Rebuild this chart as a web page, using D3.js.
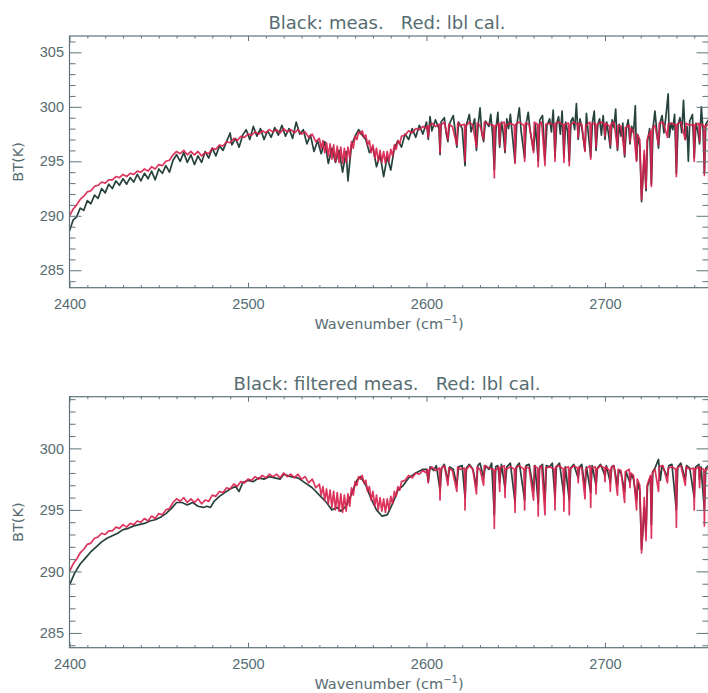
<!DOCTYPE html>
<html>
<head>
<meta charset="utf-8">
<script src="https://cdn.jsdelivr.net/npm/d3@7"></script>
<style>
  body { margin: 0; background: #fff; }
  svg { display: block; font-family: "DejaVu Sans", sans-serif; }
</style>
</head>
<body>
<div id="chart"></div>
<script>
// wavenumber ticks and BT ticks
const xMajor = [2400, 2500, 2600, 2700];
const xMinor = [2410,2420,2430,2440,2450,2460,2470,2480,2490,2510,2520,2530,2540,2550,2560,2570,2580,2590,
                2610,2620,2630,2640,2650,2660,2670,2680,2690,2710,2720,2730,2740,2750];
const yMajorTop = [285, 290, 295, 300, 305];
const yMajorBottom = [285, 290, 295, 300];
const yMinorTop = [284,286,287,288,289,291,292,293,294,296,297,298,299,301,302,303,304,306];
const yMinorBottom = [284,286,287,288,289,291,292,293,294,296,297,298,299,301,302,303,304];

const titleTop = "Black: meas.   Red: lbl cal.";
const titleBottom = "Black: filtered meas.   Red: lbl cal.";

// line-by-line calculation (red), same in both panels
const lblCal = [
  [2400,290.0],[2402,290.6],[2404,291.0],[2406,291.5],[2408,291.8],[2410,292.2],[2412,292.3],[2414,292.7],[2416,292.8],
  [2418,293.1],[2420,293.0],[2422,293.3],[2424,293.3],[2426,293.6],[2428,293.5],[2430,293.8],[2432,293.6],[2434,293.9],
  [2436,293.8],[2438,294.1],[2440,294.0],[2442,294.3],[2444,294.1],[2446,294.5],[2448,294.3],[2450,294.7],[2452,294.6],
  [2454,295.0],[2456,295.1],[2458,295.6],[2460,295.9],[2462,295.7],[2464,296.0],[2466,295.6],[2468,295.9],[2470,295.6],
  [2472,295.9],[2474,295.5],[2476,295.8],[2478,295.7],[2480,296.2],[2482,296.1],[2484,296.5],[2486,296.4],[2488,296.8],
  [2490,296.7],[2492,297.1],[2494,296.9],[2496,297.3],[2498,297.2],[2500,297.5],
  [2502,297.4],[2504,297.7],[2506,297.5],[2508,297.8],[2510,297.6],[2512,297.9],[2514,297.7],[2516,297.9],[2518,297.6],
  [2520,298.0],[2522,297.7],[2524,297.9],[2526,297.6],[2528,297.9],[2530,297.5],[2532,297.7],[2534,297.2],[2536,297.5],
  [2538,296.8],[2540,297.1],
  [2541,296.2],[2542,296.9],[2543,295.8],[2544,296.7],[2545,295.5],[2546,296.6],[2547,295.2],[2548,296.5],[2549,295.0],
  [2550,296.4],[2551,294.9],[2552,296.3],[2553,294.8],[2554,296.2],[2555,294.9],[2556,296.3],[2557,295.3],[2558,296.8],
  [2559,296.2],[2560,297.3],[2561,297.0],[2562,297.7],[2563,297.5],[2564,297.8],[2565,297.2],[2566,297.4],[2567,296.5],
  [2568,296.9],[2569,295.8],[2570,296.5],[2571,295.3],[2572,296.2],[2573,295.0],[2574,296.0],[2575,294.9],[2576,295.9],
  [2577,294.8],[2578,295.9],[2579,295.0],[2580,296.1],[2581,295.5],[2582,296.5],[2583,296.1],[2584,296.9],[2585,296.6],
  [2586,297.3],[2588,297.4],[2590,297.8],[2592,297.6],[2594,298.0],[2596,297.9],[2598,298.2],[2600,298.0],
  [2600.5,298.3],[2601,297.2],[2601.5,298.2],[2603,298.5],[2605,298.2],
  [2607.2,298.4],[2607.6,295.8],[2608,298.3],[2610,298.6],[2612,297.0],[2612.5,298.4],
  [2614.5,298.2],[2617,296.5],[2617.5,298.5],[2619,298.3],[2621.3,298.4],[2621.6,295.0],[2622,298.2],
  [2624,298.6],[2626,298.3],[2628,296.3],[2628.4,298.5],[2630,298.3],[2632,297.0],[2632.4,298.6],
  [2635,298.4],[2637.6,298.3],[2638,293.5],[2638.4,298.2],[2640.5,298.5],[2641,296.5],[2641.4,298.4],
  [2643.6,298.6],[2644,296.0],[2644.4,298.3],[2647,298.5],[2649.2,298.3],[2649.6,294.8],[2650,298.4],
  [2652,298.6],[2654.6,298.3],[2655,295.0],[2655.4,298.5],[2657.5,298.4],[2660,295.8],[2660.4,298.6],
  [2662.2,298.4],[2662.6,294.5],[2663,298.3],[2664.5,298.6],[2666.4,294.6],[2666.8,298.4],
  [2669,298.5],[2671.6,298.3],[2672,295.0],[2672.4,298.5],[2674.5,298.6],[2676.6,298.3],[2677,294.9],[2677.4,298.4],
  [2679.6,298.5],[2680,294.6],[2680.4,298.3],[2682.5,298.6],[2684.6,298.4],[2685,297.2],[2685.4,298.5],
  [2687,298.4],[2688.8,295.9],[2689.2,298.3],[2691.6,298.6],[2692,295.2],[2692.4,298.4],
  [2694.6,298.5],[2695,296.3],[2695.4,298.3],[2697.5,298.6],[2699.6,298.4],[2700,297.3],[2700.4,298.5],
  [2702.6,298.2],[2703,296.5],[2703.4,298.4],[2705,298.6],[2707,296.2],[2707.4,298.3],
  [2709,298.2],[2711,295.6],[2711.4,298.1],[2713.6,298.3],[2714,296.8],[2714.4,298.0],
  [2716,297.8],[2717.7,295.0],[2718.1,297.5],[2719.5,297.0],[2720.5,291.5],[2721.3,293.8],[2722,296.0],
  [2723,292.5],[2723.6,297.0],[2725.5,297.8],[2726,292.7],[2726.5,298.0],[2728,298.3],[2730,296.5],[2730.4,298.5],
  [2732.5,298.6],[2735,297.2],[2735.4,298.4],[2737.5,298.5],[2739.6,298.3],[2740,293.6],[2740.4,298.4],
  [2742.5,298.6],[2745,297.0],[2745.4,298.5],[2747.5,298.3],[2749.6,298.4],[2750,295.0],[2750.4,298.3],
  [2752.6,298.5],[2753,296.8],[2753.4,298.4],[2755.3,298.3],[2755.7,293.7],[2756.1,298.2],[2758,298.4]
];

// measured spectrum (top panel)
const meas = [
  [2400,288.6],[2402,289.6],[2404,289.9],[2406,290.7],[2408,290.5],[2410,291.4],[2412,291.1],[2414,291.9],[2416,291.6],
  [2418,292.5],[2420,292.1],[2422,292.9],[2424,292.5],[2426,293.2],[2428,292.8],[2430,293.4],[2432,292.9],[2434,293.5],
  [2436,293.1],[2438,293.8],[2440,293.2],[2442,293.9],[2444,293.4],[2446,294.1],[2448,293.3],[2450,294.3],[2452,293.9],
  [2454,294.6],[2456,294.0],[2458,295.1],[2460,295.6],[2462,295.0],[2464,295.8],[2466,294.9],[2468,295.6],[2470,294.7],
  [2472,295.5],[2474,294.9],[2476,295.9],[2478,295.3],[2480,296.2],[2482,295.5],[2484,296.4],[2486,296.0],[2488,296.8],
  [2490,297.6],[2491,296.5],[2493,297.1],[2495,296.3],[2497,297.4],[2499,297.9],[2501,297.0],[2503,298.2],[2505,297.3],
  [2507,298.0],[2509,297.0],[2511,297.8],[2513,297.2],[2515,298.1],[2517,297.4],[2519,298.3],[2521,297.3],[2523,298.0],
  [2525,297.1],[2527,298.6],[2529,297.5],[2531,297.9],[2533,296.6],[2535,297.4],[2537,295.9],[2539,296.9],[2541,295.7],
  [2543,296.8],[2545,294.8],[2547,296.2],[2549,294.9],[2551,296.0],[2553,294.0],[2555,295.9],[2556,293.2],[2558,296.5],
  [2560,297.3],[2562,297.9],[2564,297.4],[2566,297.0],[2568,295.8],[2570,296.3],[2572,294.5],[2574,295.6],[2576,293.6],
  [2578,295.4],[2580,294.2],[2582,296.2],[2584,296.9],[2586,296.3],[2588,297.5],[2590,297.0],[2592,298.0],[2594,297.2],
  [2596,298.3],[2598,297.5],
  [2600,298.6],[2601,297.0],[2602,299.1],[2603,297.8],[2605,298.8],[2607,298.0],[2607.6,295.6],[2608.2,298.6],[2610,299.0],
  [2611,297.6],[2612,296.8],[2613,298.5],[2615,299.2],[2616,297.9],[2617,296.3],[2618,298.6],[2620,298.0],[2621.6,294.6],
  [2622.3,298.3],[2624,299.3],[2625,297.7],[2627,298.9],[2628,296.0],[2629,298.4],[2630,299.9],[2631,297.6],[2632,296.8],
  [2633,298.7],[2635,298.2],[2636,299.3],[2637,297.5],[2638,294.2],[2639,298.1],[2640,299.5],[2641,296.3],[2642,298.6],
  [2643,297.6],[2644,295.8],[2645,298.9],[2646,298.0],[2647,299.3],[2648,297.6],[2649.6,294.9],[2650.5,298.2],[2652,299.9],
  [2653,297.8],[2655,295.3],[2656,298.6],[2657,299.5],[2658,297.9],[2660,296.0],[2661,298.4],[2662.6,295.0],[2663.5,298.8],
  [2665,299.2],[2666.4,295.2],[2667.5,298.3],[2669,298.9],[2670,297.7],[2671,299.7],[2672,295.4],[2673,298.5],[2674,299.1],
  [2675,297.5],[2676,299.6],[2677,295.4],[2678,298.6],[2679,297.8],[2680,295.0],[2681,298.7],[2682,299.0],[2683,297.9],
  [2684,300.3],[2685,297.0],[2686,298.9],[2687,298.1],[2688.8,296.0],[2689.6,299.4],[2690.5,297.8],[2692,295.4],[2693,298.6],
  [2694,299.6],[2695,296.0],[2696,298.4],[2697,298.9],[2698,297.4],[2699,299.2],[2700,297.0],[2701,298.6],[2702,297.5],
  [2703,296.2],[2704,298.8],[2705,298.1],[2706,299.8],[2707,296.0],[2708,298.4],[2709,297.3],[2710,298.5],[2711,295.4],
  [2712,298.0],[2713,298.8],[2714,296.6],[2715,298.2],[2716,297.6],[2717,300.1],[2717.7,295.1],[2718.5,297.4],[2719.5,296.4],
  [2720.5,291.3],[2721.2,293.3],[2722,295.6],[2723,292.3],[2723.8,296.8],[2725,298.0],[2726,292.9],[2727,298.2],[2728,299.6],
  [2729,297.8],[2730,296.2],[2731,298.6],[2732,299.2],[2733,297.6],[2734,298.9],[2735.4,301.2],[2736,297.2],[2737,298.5],
  [2738,297.9],[2739,299.3],[2740,293.9],[2741,298.4],[2742,299.0],[2743,297.6],[2744,300.6],[2745,297.0],[2746,298.2],
  [2746.7,295.0],[2747.5,298.7],[2749,299.3],[2750,295.3],[2751,298.5],[2752,297.8],[2753,296.6],[2754,300.0],[2755,297.6],
  [2755.7,293.9],[2756.5,298.4],[2758,298.8]
];

// filtered measurement (bottom panel)
const measFiltered = [
  [2400,288.9],[2403,289.9],[2406,290.6],[2409,291.1],[2412,291.6],[2415,292.0],[2418,292.4],[2421,292.7],[2424,292.9],
  [2427,293.1],[2430,293.4],[2433,293.5],[2436,293.7],[2439,293.8],[2442,293.9],[2445,294.1],[2448,294.2],[2451,294.4],
  [2454,294.7],[2457,295.1],[2460,295.6],[2463,295.6],[2466,295.4],[2469,295.6],[2472,295.3],[2475,295.2],[2477,295.3],
  [2479,295.2],[2481,295.7],[2484,296.1],[2487,296.4],[2490,296.7],[2493,296.9],[2495,296.5],[2497,297.2],[2500,297.4],
  [2503,297.3],[2506,297.6],[2509,297.5],[2512,297.7],[2515,297.6],[2518,297.5],[2520,297.9],[2524,297.7],[2528,297.6],
  [2532,297.2],[2536,296.8],[2540,296.2],[2544,295.6],[2547,295.0],[2550,295.2],[2552,294.9],[2555,295.3],[2558,296.3],
  [2561,297.4],[2563,297.7],[2566,297.0],[2569,295.9],[2572,295.0],[2575,294.5],[2578,294.6],[2581,295.5],[2584,296.6],
  [2587,297.0],[2590,297.6],[2594,298.0],[2598,298.3],
  [2600,298.3],[2601,297.3],[2602,298.5],[2604,298.2],[2605.5,298.6],[2607.6,296.6],[2608.5,298.4],[2610,298.7],[2612,297.4],
  [2613,298.5],[2615,298.3],[2617,297.0],[2618,298.5],[2620,298.6],[2621.6,296.0],[2622.4,298.4],[2624,298.7],[2626,298.3],
  [2628,296.9],[2628.8,298.6],[2630,298.8],[2632,297.6],[2633,298.6],[2635,298.3],[2636.5,298.8],[2638,294.6],[2638.8,298.5],
  [2640,298.6],[2641,297.2],[2642,298.7],[2644,296.8],[2645,298.5],[2647,298.8],[2649.6,295.6],[2650.4,298.5],[2652,298.8],
  [2655,295.8],[2655.8,298.6],[2657.5,298.7],[2660,296.6],[2660.8,298.6],[2662.6,295.5],[2663.4,298.5],[2665,298.7],
  [2666.4,295.8],[2667.2,298.6],[2669,298.5],[2670.5,298.8],[2672,296.0],[2672.8,298.5],[2674.5,298.8],[2677,296.2],
  [2677.8,298.5],[2680,295.8],[2680.8,298.4],[2682.5,298.7],[2685,297.6],[2685.8,298.5],[2687,298.7],[2688.8,296.8],
  [2689.6,298.5],[2692,296.4],[2692.8,298.6],[2695,297.0],[2695.8,298.4],[2697.5,298.7],[2700,297.8],[2700.8,298.6],
  [2703,297.2],[2703.8,298.5],[2705,298.6],[2707,297.0],[2707.8,298.2],[2709,298.0],[2711,296.5],[2711.8,298.1],[2714,297.2],
  [2714.8,297.9],[2716,297.5],[2717.7,295.8],[2718.5,297.2],[2719.5,296.6],[2720.5,291.8],[2721.3,293.4],[2722,295.2],
  [2723,293.2],[2723.8,296.9],[2725.5,297.7],[2726,293.8],[2726.8,298.1],[2728,298.4],[2730,299.1],[2731,297.4],[2732,298.6],
  [2735,297.7],[2735.8,298.6],[2737.5,298.7],[2740,295.0],[2740.8,298.5],[2742.5,298.8],[2745,297.5],[2745.8,298.6],
  [2747.5,298.4],[2750,296.0],[2750.8,298.5],[2752.6,298.7],[2753,297.5],[2753.8,298.5],[2755.7,295.0],[2756.5,298.4],[2758,298.6]
];

const W = 708, H = 693;
const left = 69.5, right = 708.5;
const axisColor = "#5d7479";
const textColor = "#566c71";
const measColor = "#27423d";
const calColor = "#d81f4b";

const svg = d3.select("#chart").append("svg")
    .attr("width", W)
    .attr("height", H);

const x = d3.scaleLinear().domain([2400, 2758]).range([left, right]);

const panels = [
  {id: "p1", top: 36, bottom: 287.7, yDomain: [283.4, 306.5], yMajor: yMajorTop, yMinor: yMinorTop, title: titleTop, black: meas},
  {id: "p2", top: 396.7, bottom: 647.7, yDomain: [283.8, 304.2], yMajor: yMajorBottom, yMinor: yMinorBottom, title: titleBottom, black: measFiltered}
];

panels.forEach(p => {
  const y = d3.scaleLinear().domain(p.yDomain).range([p.bottom, p.top]);
  const g = svg.append("g");

  g.append("clipPath").attr("id", "clip-" + p.id)
    .append("rect")
    .attr("x", left).attr("y", p.top)
    .attr("width", right - left).attr("height", p.bottom - p.top);

  const line = d3.line()
    .x(d => x(d[0]))
    .y(d => y(d[1]));

  const plot = g.append("g").attr("clip-path", `url(#clip-${p.id})`);
  plot.append("path")
    .datum(p.black)
    .attr("d", line)
    .attr("fill", "none")
    .attr("stroke", measColor)
    .attr("stroke-width", 1.7)
    .attr("stroke-linejoin", "round");
  plot.append("path")
    .datum(lblCal)
    .attr("d", line)
    .attr("fill", "none")
    .attr("stroke", calColor)
    .attr("stroke-width", 1.7)
    .attr("stroke-opacity", 0.9)
    .attr("stroke-linejoin", "round");

  // axes: major + minor ticks on all four sides
  const addAxis = (axis, tx, ty) => {
    const a = g.append("g").attr("transform", `translate(${tx},${ty})`).call(axis);
    a.select(".domain").remove();
    a.selectAll("line").attr("stroke", axisColor).attr("stroke-width", 1);
    a.selectAll("text").attr("fill", textColor).style("font-size", "14.5px");
    return a;
  };

  addAxis(d3.axisBottom(x).tickValues(xMajor).tickSizeInner(-5).tickSizeOuter(0).tickPadding(11).tickFormat(d3.format("d")), 0, p.bottom);
  addAxis(d3.axisBottom(x).tickValues(xMinor).tickSizeInner(-2.5).tickSizeOuter(0).tickFormat(""), 0, p.bottom);
  addAxis(d3.axisTop(x).tickValues(xMajor).tickSizeInner(-5).tickSizeOuter(0).tickFormat(""), 0, p.top);
  addAxis(d3.axisTop(x).tickValues(xMinor).tickSizeInner(-2.5).tickSizeOuter(0).tickFormat(""), 0, p.top);
  addAxis(d3.axisLeft(y).tickValues(p.yMajor).tickSizeInner(-12).tickSizeOuter(0).tickPadding(5.5).tickFormat(d3.format("d")), left, 0);
  addAxis(d3.axisLeft(y).tickValues(p.yMinor).tickSizeInner(-6).tickSizeOuter(0).tickFormat(""), left, 0);
  addAxis(d3.axisRight(y).tickValues(p.yMajor).tickSizeInner(-12).tickSizeOuter(0).tickFormat(""), right, 0);
  addAxis(d3.axisRight(y).tickValues(p.yMinor).tickSizeInner(-6).tickSizeOuter(0).tickFormat(""), right, 0);

  g.append("rect")
    .attr("x", left).attr("y", p.top)
    .attr("width", right - left).attr("height", p.bottom - p.top)
    .attr("fill", "none")
    .attr("stroke", axisColor)
    .attr("stroke-width", 1.2);

  g.append("text")
    .attr("x", (left + right) / 2 - 2)
    .attr("y", p.top - 7)
    .attr("text-anchor", "middle")
    .attr("fill", textColor)
    .style("font-size", "18px")
    .style("white-space", "pre")
    .text(p.title);

  const xl = g.append("text")
    .attr("x", (left + right) / 2)
    .attr("y", p.bottom + 41)
    .attr("text-anchor", "middle")
    .attr("fill", textColor)
    .style("font-size", "14.5px");
  xl.append("tspan").text("Wavenumber (cm");
  xl.append("tspan").attr("dy", -6).style("font-size", "10px").text("−1");
  xl.append("tspan").attr("dy", 6).text(")");

  g.append("text")
    .attr("transform", `translate(23,${(p.top + p.bottom) / 2}) rotate(-90)`)
    .attr("text-anchor", "middle")
    .attr("fill", textColor)
    .style("font-size", "14.5px")
    .text("BT(K)");
});
</script>
</body>
</html>
